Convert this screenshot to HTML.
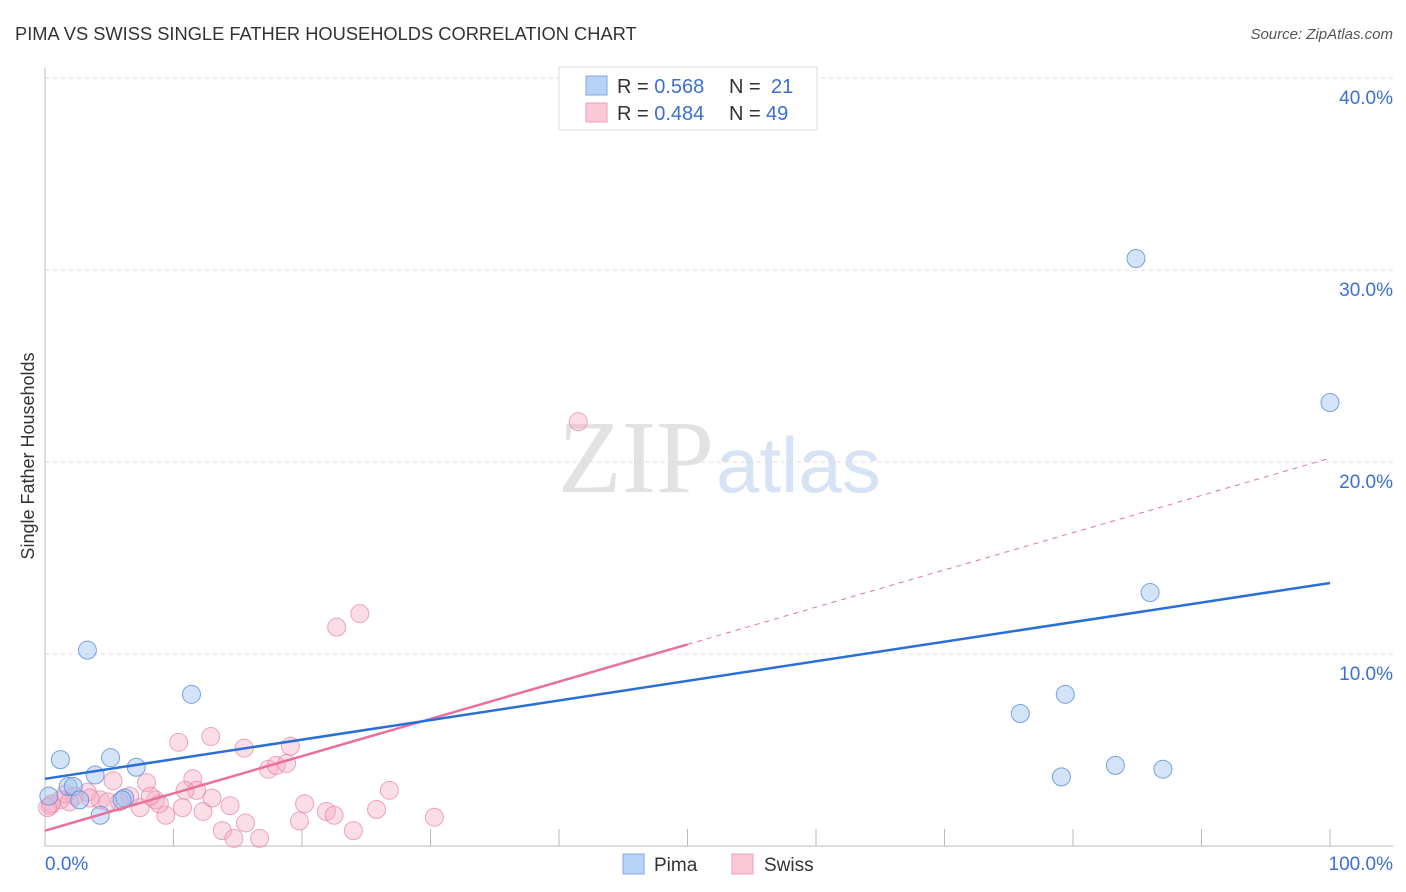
<!DOCTYPE html>
<html><head><meta charset="utf-8"><style>
body{margin:0;background:#fff;font-family:"Liberation Sans",sans-serif}
svg{display:block}
</style></head><body>
<svg width="1406" height="892">
<text x="15" y="40" font-size="18.3" fill="#333">PIMA VS SWISS SINGLE FATHER HOUSEHOLDS CORRELATION CHART</text>
<text x="1393" y="39" font-size="15" fill="#555" font-style="italic" text-anchor="end">Source: ZipAtlas.com</text>
<text x="714" y="492" font-size="104" fill="#e2e2e2" font-family="Liberation Serif,serif" text-anchor="end">ZIP</text>
<text x="716" y="492" font-size="78" fill="#d6e3f5">atlas</text>
<text transform="translate(34,456) rotate(-90)" font-size="18" fill="#333" text-anchor="middle">Single Father Households</text>
<g id="grid"></g><g id="marks"></g>
<g>
<rect x="559" y="67" width="258" height="63" fill="#fff" stroke="#ddd"/>
<rect x="586" y="76" width="21" height="19" fill="#b8d2f5" stroke="#7ea8e6"/>
<rect x="586" y="103" width="21" height="19" fill="#fbc8d6" stroke="#eba0b8"/>
<text x="617" y="93" font-size="20" fill="#333">R = <tspan fill="#3b6fd4">0.568</tspan><tspan x="729">N = </tspan><tspan x="771" fill="#3b6fd4">21</tspan></text>
<text x="617" y="120" font-size="20" fill="#333">R = <tspan fill="#3b6fd4">0.484</tspan><tspan x="729">N = </tspan><tspan x="766" fill="#3b6fd4">49</tspan></text>
</g>
<g>
<rect x="623" y="854" width="21" height="20" fill="#b8d2f5" stroke="#7ea8e6"/>
<text x="654" y="871" font-size="19" fill="#333">Pima</text>
<rect x="732" y="854" width="21" height="20" fill="#fbc8d6" stroke="#eba0b8"/>
<text x="764" y="871" font-size="19" fill="#333">Swiss</text>
</g>
<text x="45" y="870" font-size="19" fill="#3b6fd4">0.0%</text>
<text x="1393" y="870" font-size="19" fill="#3b6fd4" text-anchor="end">100.0%</text>
</svg>
<script>
const yTicks=[10,20,30,40];
const yTickLabels=["10.0%","20.0%","30.0%","40.0%"];
const xTicks=[10,20,30,40,50,60,70,80,90,100];
const pimaX=[1.2,3.3,5.1,7.1,3.9,11.4,1.8,2.2,0.3,2.7,6.2,4.3,75.9,79.4,79.1,83.3,87.0,84.9,100,86.0,6.0];
const pimaY=[4.5,10.2,4.6,4.1,3.7,7.9,3.1,3.1,2.6,2.4,2.5,1.6,6.9,7.9,3.6,4.2,4.0,30.6,23.1,13.2,2.4];
const swissX=[41.5,22.7,24.5,10.4,12.9,15.5,19.1,17.4,18.0,18.8,5.3,7.9,11.5,11.8,26.8,20.2,21.9,22.5,25.8,30.3,19.8,24.0,13.8,14.7,15.6,16.7,9.4,10.7,12.3,14.4,13.0,7.4,8.6,6.6,4.3,3.3,2.3,1.2,0.4,5.8,4.9,1.6,1.9,3.5,8.9,8.2,10.9,0.5,0.2];
const swissY=[22.1,11.4,12.1,5.4,5.7,5.1,5.2,4.0,4.2,4.3,3.4,3.3,3.5,2.9,2.9,2.2,1.8,1.6,1.9,1.5,1.3,0.8,0.8,0.4,1.2,0.4,1.6,2.0,1.8,2.1,2.5,2.0,2.4,2.6,2.4,2.8,2.6,2.4,2.1,2.3,2.3,2.7,2.3,2.5,2.2,2.6,2.9,2.2,2.0];
const pimaTrend=[3.5,13.7];
const swissTrend=[0.8,20.2];
const NS="http://www.w3.org/2000/svg";
const sx=v=>45+v*12.85, sy=v=>846-v*19.2;
function mk(p,t,a){const e=document.createElementNS(NS,t);for(const k in a)e.setAttribute(k,a[k]);p.appendChild(e);return e;}
const grid=document.getElementById('grid'),marks=document.getElementById('marks');
yTicks.forEach((t,i)=>{
 const l=mk(grid,'line',{x1:45,x2:1393,y1:sy(t),y2:sy(t),stroke:'#ddd','stroke-dasharray':'4,4'});
 
 
 const tx=mk(grid,'text',{x:1393,y:sy(t)+26,'font-size':19,fill:'#3b6fd4','text-anchor':'end'});
 tx.textContent=yTickLabels[i];
 
 
});
xTicks.forEach(t=>{
 const l=mk(grid,'line',{x1:sx(t),x2:sx(t),y1:829,y2:846,stroke:'#bbb'});
 
 
});
const ax=mk(grid,'path',{d:'M45,68V846H1393',fill:'none',stroke:'#bbb'});


swissX.forEach((x,i)=>{
 const c=mk(marks,'circle',{cx:sx(x),cy:sy(swissY[i]),r:9,fill:'rgba(245,170,195,0.4)',stroke:'rgba(230,130,165,0.7)'});
 
 
});
pimaX.forEach((x,i)=>{
 const c=mk(marks,'circle',{cx:sx(x),cy:sy(pimaY[i]),r:9,fill:'rgba(160,195,240,0.45)',stroke:'rgba(90,140,220,0.8)'});
 
 
});
const sAt=x=>swissTrend[0]+(swissTrend[1]-swissTrend[0])*x/100;
const d=mk(marks,'line',{x1:sx(50),y1:sy(sAt(50)),x2:sx(100),y2:sy(sAt(100)),stroke:'#e8709a','stroke-dasharray':'5,5'});


const s=mk(marks,'line',{x1:sx(0),y1:sy(sAt(0)),x2:sx(50),y2:sy(sAt(50)),stroke:'#e8709a','stroke-width':2.5});


const p=mk(marks,'line',{x1:sx(0),y1:sy(pimaTrend[0]),x2:sx(100),y2:sy(pimaTrend[1]),stroke:'#2a6fd6','stroke-width':2.5});


</script>
</body></html>
